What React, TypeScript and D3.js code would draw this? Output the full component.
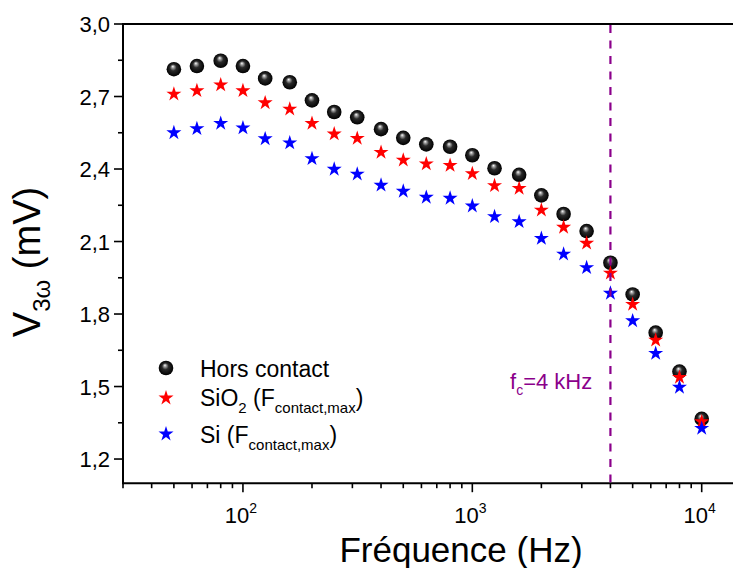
import React from "react";
import * as d3 from "d3";

const freqs = [50, 63, 80, 100, 125, 160, 200, 250, 315, 400, 500, 630, 800, 1000, 1250, 1600, 2000, 2500, 3150, 4000, 5000, 6300, 8000, 10000];
const horsContact = [2.813, 2.826, 2.848, 2.826, 2.775, 2.759, 2.684, 2.636, 2.614, 2.565, 2.529, 2.502, 2.492, 2.457, 2.403, 2.376, 2.291, 2.214, 2.143, 2.012, 1.881, 1.723, 1.562, 1.366];
const sio2 = [2.710, 2.724, 2.748, 2.724, 2.674, 2.648, 2.589, 2.545, 2.527, 2.469, 2.437, 2.421, 2.415, 2.381, 2.331, 2.320, 2.230, 2.159, 2.093, 1.969, 1.840, 1.692, 1.538, 1.354];
const si = [2.550, 2.567, 2.589, 2.570, 2.525, 2.508, 2.443, 2.399, 2.379, 2.333, 2.308, 2.283, 2.279, 2.247, 2.203, 2.182, 2.113, 2.048, 1.992, 1.886, 1.772, 1.637, 1.497, 1.327];
const yTicks = [1.2, 1.5, 1.8, 2.1, 2.4, 2.7, 3.0];
const yMinorTicks = [1.35, 1.65, 1.95, 2.25, 2.55, 2.85];
const xMajorTicks = [100, 1000, 10000];
const xMajorExp = ["2", "3", "4"];
const cutoffFreq = 4000;

const W = 733;
const H = 568;
const FONT = "Liberation Sans, Arial, sans-serif";

export default function App() {
  const x = d3.scaleLog().domain([30, 10000]).range([123, 701.7]);
  const y = d3.scaleLinear().domain([1.1, 3.0]).range([483.2, 24]);
  const x0 = x(30);
  const yBottom = y(1.1);
  const yTop = y(3.0);

  const minorX: number[] = [];
  for (let d = 10; d <= 10000; d *= 10) {
    for (let k = 1; k <= 9; k++) {
      const v = d * k;
      if (v >= 30 && v <= 30000 && !xMajorTicks.includes(v)) minorX.push(v);
    }
  }

  const starPath = d3.symbol().type(d3.symbolStar).size(70)() as string;

  const sphere = (cx: number, cy: number, key: string) => (
    <circle key={key} cx={cx} cy={cy} r={7.3} fill="url(#sphereGrad)" />
  );
  const star = (cx: number, cy: number, color: string, key: string) => (
    <path key={key} d={starPath} transform={`translate(${cx},${cy})`} fill={color} />
  );

  return (
    <svg width={W} height={H} style={{ position: "absolute", left: 0, top: 0, background: "#fff" }} fontFamily={FONT}>
      <defs>
        <radialGradient id="sphereGrad" cx="0.5" cy="0.5" r="0.5" fx="0.42" fy="0.3">
          <stop offset="0" stopColor="#ffffff" />
          <stop offset="0.18" stopColor="#a0a0a0" />
          <stop offset="0.45" stopColor="#2a2a2a" />
          <stop offset="1" stopColor="#000000" />
        </radialGradient>
      </defs>
      <rect x={0} y={0} width={W} height={H} fill="#fff" />

      {/* axes lines */}
      <line x1={x0} x2={W + 5} y1={yBottom} y2={yBottom} stroke="#000" strokeWidth={2} />
      <line x1={x0} x2={W + 5} y1={yTop} y2={yTop} stroke="#000" strokeWidth={2} />
      <line x1={x0} x2={x0} y1={yTop - 1} y2={yBottom + 1} stroke="#000" strokeWidth={2} />

      {/* y ticks */}
      {yTicks.map((t) => (
        <g key={"yt" + t}>
          <line x1={x0 - 9} x2={x0} y1={y(t)} y2={y(t)} stroke="#000" strokeWidth={1.6} />
          <text x={110} y={y(t) + 8} textAnchor="end" fontSize={22} fill="#000">
            {t.toFixed(1).replace(".", ",")}
          </text>
        </g>
      ))}
      {yMinorTicks.map((t) => (
        <line key={"ym" + t} x1={x0 - 5} x2={x0} y1={y(t)} y2={y(t)} stroke="#000" strokeWidth={1.6} />
      ))}

      {/* x ticks */}
      {minorX.map((v) => (
        <line key={"xm" + v} x1={x(v)} x2={x(v)} y1={yBottom} y2={yBottom + 5} stroke="#000" strokeWidth={1.6} />
      ))}
      {xMajorTicks.map((v, i) => (
        <g key={"xM" + v}>
          <line x1={x(v)} x2={x(v)} y1={yBottom} y2={yBottom + 9} stroke="#000" strokeWidth={1.6} />
          <text x={x(v) - 2} y={523} textAnchor="middle" fontSize={22} fill="#000">
            10<tspan dy={-10} fontSize={14}>{xMajorExp[i]}</tspan>
          </text>
        </g>
      ))}

      {/* axis titles */}
      <text x={461} y={562} textAnchor="middle" fontSize={35} fill="#000">Fréquence (Hz)</text>
      <text transform="translate(40,262) rotate(-90)" textAnchor="middle" fontSize={38} fill="#000">
        V<tspan dy={10} fontSize={24}>3ω</tspan><tspan dy={-10}> (mV)</tspan>
      </text>

      {/* data */}
      <g>
        {freqs.map((f, i) => sphere(x(f), y(horsContact[i]), "h" + i))}
        {freqs.map((f, i) => star(x(f), y(sio2[i]), "#ff0000", "s" + i))}
        {freqs.map((f, i) => star(x(f), y(si[i]), "#0000ff", "b" + i))}
      </g>

      {/* cutoff line */}
      <line x1={x(cutoffFreq)} x2={x(cutoffFreq)} y1={yTop + 1} y2={yBottom - 1} stroke="#8b008b" strokeWidth={2.2} strokeDasharray="8,7.5" />
      <text x={510} y={389} fontSize={22} fill="#8b008b">
        f<tspan dy={6} fontSize={14}>c</tspan><tspan dy={-6}>=4 kHz</tspan>
      </text>

      {/* legend */}
      {sphere(166, 368, "lg1")}
      {star(166, 398, "#ff0000", "lg2")}
      {star(166, 434, "#0000ff", "lg3")}
      <text x={200} y={377} fontSize={23} fill="#000">Hors contact</text>
      <text x={200} y={406} fontSize={23} fill="#000">
        SiO<tspan dy={7} fontSize={15}>2</tspan><tspan dy={-7}> (F</tspan><tspan dy={7} fontSize={15}>contact,max</tspan><tspan dy={-7}>)</tspan>
      </text>
      <text x={200} y={443} fontSize={23} fill="#000">
        Si (F<tspan dy={7} fontSize={15}>contact,max</tspan><tspan dy={-7}>)</tspan>
      </text>
    </svg>
  );
}
